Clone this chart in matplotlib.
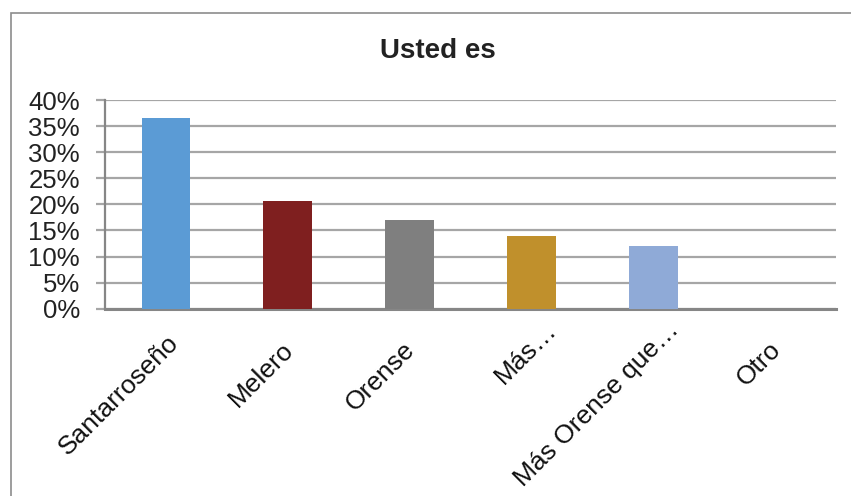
import matplotlib
matplotlib.use("Agg")
import matplotlib.pyplot as plt
from matplotlib.patches import Rectangle
from matplotlib.ticker import FuncFormatter
from matplotlib.transforms import ScaledTranslation

plt.rcParams['font.family'] = ['Liberation Sans', 'DejaVu Sans']

title = "Usted es"
categories = ["Santarroseño", "Melero", "Orense", "Más…", "Más Orense que…", "Otro"]
values = [36.5, 20.6, 17.0, 13.9, 12.0, 0.0]
colors = ["#5B9BD5", "#7F1F1F", "#7F7F7F", "#C0902C", "#8FAAD7", "#A5A5A5"]
yticks = [0, 5, 10, 15, 20, 25, 30, 35, 40]

# layout: extra shift of each rotated label along its own direction (pixels)
label_shift = [10, 0, 0, 28, 28, 0]

DPI = 100
fig = plt.figure(figsize=(8.51, 4.96), dpi=DPI)
ax = fig.add_axes([105/851, 1-308.7/496, (836-105)/851, (308.7-100)/496])

x = list(range(len(categories)))
ax.bar(x, values, width=0.4, color=colors, zorder=3)
ax.set_xlim(-0.5, len(categories)-0.5)
ax.set_ylim(0, 40)
ax.set_yticks(yticks)
ax.yaxis.set_major_formatter(FuncFormatter(lambda v, p: f"{int(v)}%"))
ax.grid(axis='y', color='#A6A6A6', linewidth=1.6, zorder=0)
for s in ['top', 'right']:
    ax.spines[s].set_visible(False)
ax.spines['left'].set_color('#868686')
ax.spines['left'].set_linewidth(1.6)
ax.spines['bottom'].set_color('#868686')
ax.spines['bottom'].set_linewidth(2.2)
ax.tick_params(axis='y', length=6.5, width=1.6, color='#A6A6A6', labelsize=18.5,
               labelcolor='#222222', pad=11.5)
ax.set_xticks(x)
ax.set_xticklabels([])
ax.tick_params(axis='x', length=0)

for i, lab in enumerate(categories):
    s = label_shift[i]
    dx = (-6.7 + 0.707 * s) / DPI
    dy = (-29 + 0.707 * s) / DPI
    tr = ax.get_xaxis_transform() + ScaledTranslation(dx, dy, fig.dpi_scale_trans)
    ax.text(i, 0, lab, transform=tr, rotation=45, ha='right', va='top',
            rotation_mode='anchor', fontsize=19, color='#111111', clip_on=False)

fig.text(438/851, 1-51/496, title, ha='center', va='center', fontsize=20,
         fontweight='bold', color='#222222')

fig.patches.append(Rectangle((11/851, -0.1), 1.2, 1-13/496+0.1, transform=fig.transFigure,
                             fill=False, edgecolor='#8C8C8C', linewidth=1.2))

fig.savefig("out.png", dpi=DPI)
